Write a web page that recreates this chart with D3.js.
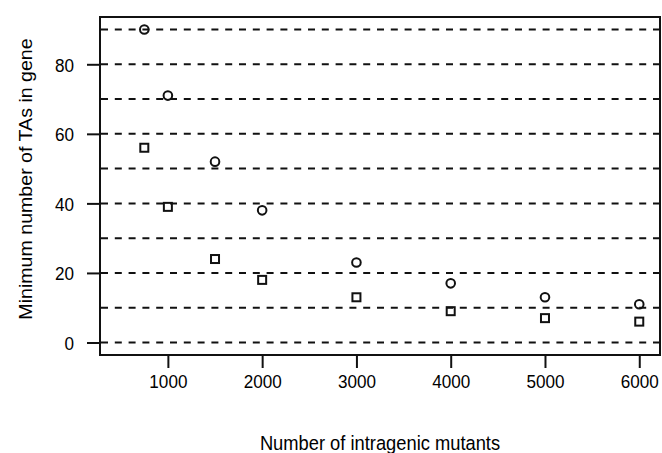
<!DOCTYPE html>
<html>
<head>
<meta charset="utf-8">
<script src="https://cdn.jsdelivr.net/npm/d3@7"></script>
<style>
  html, body { margin: 0; padding: 0; background: #fff; }
  svg text { font-family: "Liberation Sans", Arial, sans-serif; fill: #000; }
</style>
</head>
<body>
<svg id="chart" width="662" height="453"></svg>
<script>
// ---- data ----
const mutants = [750, 1000, 1500, 2000, 3000, 4000, 5000, 6000];
const circleSeries = [90, 71, 52, 38, 23, 17, 13, 11];
const squareSeries = [56, 39, 24, 18, 13, 9, 7, 6];
const xTicks = [1000, 2000, 3000, 4000, 5000, 6000];
const yTicks = [0, 20, 40, 60, 80];
const gridLevels = [0, 10, 20, 30, 40, 50, 60, 70, 80, 90];
const xLim = [500, 6000];
const yLim = [0, 90];
const xLabel = "Number of intragenic mutants";
const yLabel = "Minimum number of TAs in gene";

// ---- layout ----
const svg = d3.select("#chart");
const box = { left: 100, right: 660, top: 17, bottom: 355 };
const pad = (lim) => { const p = 0.04 * (lim[1] - lim[0]); return [lim[0] - p, lim[1] + p]; };

const x = d3.scaleLinear().domain(pad(xLim)).range([box.left, box.right]);
const y = d3.scaleLinear().domain(pad(yLim)).range([box.bottom, box.top]);

const sx = 0.9; // horizontal condensing of tick labels

// dashed horizontal lines
svg.append("g").selectAll("line").data(gridLevels).join("line")
  .attr("x1", box.left + 1).attr("x2", box.right)
  .attr("y1", d => y(d)).attr("y2", d => y(d))
  .attr("stroke", "#111").attr("stroke-width", 2)
  .attr("stroke-dasharray", "7,6.8");

// frame
svg.append("rect")
  .attr("x", box.left).attr("y", box.top)
  .attr("width", box.right - box.left).attr("height", box.bottom - box.top)
  .attr("fill", "none").attr("stroke", "#111").attr("stroke-width", 2);

// x axis
const xAxis = d3.axisBottom(x).tickValues(xTicks).tickSize(13).tickPadding(8)
  .tickFormat(d3.format("d"));
const gx = svg.append("g").attr("transform", `translate(0,${box.bottom})`).call(xAxis);
gx.select(".domain").remove();
gx.selectAll(".tick line").attr("stroke", "#111").attr("stroke-width", 2);
gx.selectAll(".tick text").attr("font-size", 19).attr("fill", "#000")
  .attr("font-family", "Liberation Sans, Arial, sans-serif")
  .attr("y", 33).attr("dy", null)
  .attr("transform", `scale(${sx},1)`);

// y axis
const yAxis = d3.axisLeft(y).tickValues(yTicks).tickSize(13).tickPadding(13)
  .tickFormat(d3.format("d"));
const gy = svg.append("g").attr("transform", `translate(${box.left},0)`).call(yAxis);
gy.select(".domain").remove();
gy.selectAll(".tick line").attr("stroke", "#111").attr("stroke-width", 2);
gy.selectAll(".tick text").attr("font-size", 19).attr("fill", "#000")
  .attr("font-family", "Liberation Sans, Arial, sans-serif")
  .attr("x", -26 / sx).attr("dy", "0.36em")
  .attr("transform", `scale(${sx},1)`);

// points: circles
svg.append("g").selectAll("circle").data(mutants.map((m, i) => [m, circleSeries[i]]))
  .join("circle")
  .attr("cx", d => x(d[0])).attr("cy", d => y(d[1])).attr("r", 4.3)
  .attr("fill", "none").attr("stroke", "#111").attr("stroke-width", 2);

// points: squares
const s = 8;
svg.append("g").selectAll("rect").data(mutants.map((m, i) => [m, squareSeries[i]]))
  .join("rect")
  .attr("x", d => x(d[0]) - s / 2).attr("y", d => y(d[1]) - s / 2)
  .attr("width", s).attr("height", s)
  .attr("fill", "none").attr("stroke", "#111").attr("stroke-width", 2);

// axis labels
const xl = 0.94;
svg.append("text")
  .attr("transform", `translate(${(box.left + box.right) / 2},450) scale(${xl},1)`)
  .attr("text-anchor", "middle").attr("font-size", 19.5)
  .text(xLabel);

svg.append("text")
  .attr("transform", `translate(32,${(box.top + box.bottom) / 2 - 7}) rotate(-90) scale(1,0.94)`)
  .attr("text-anchor", "middle").attr("font-size", 19.6)
  .text(yLabel);
</script>
</body>
</html>
